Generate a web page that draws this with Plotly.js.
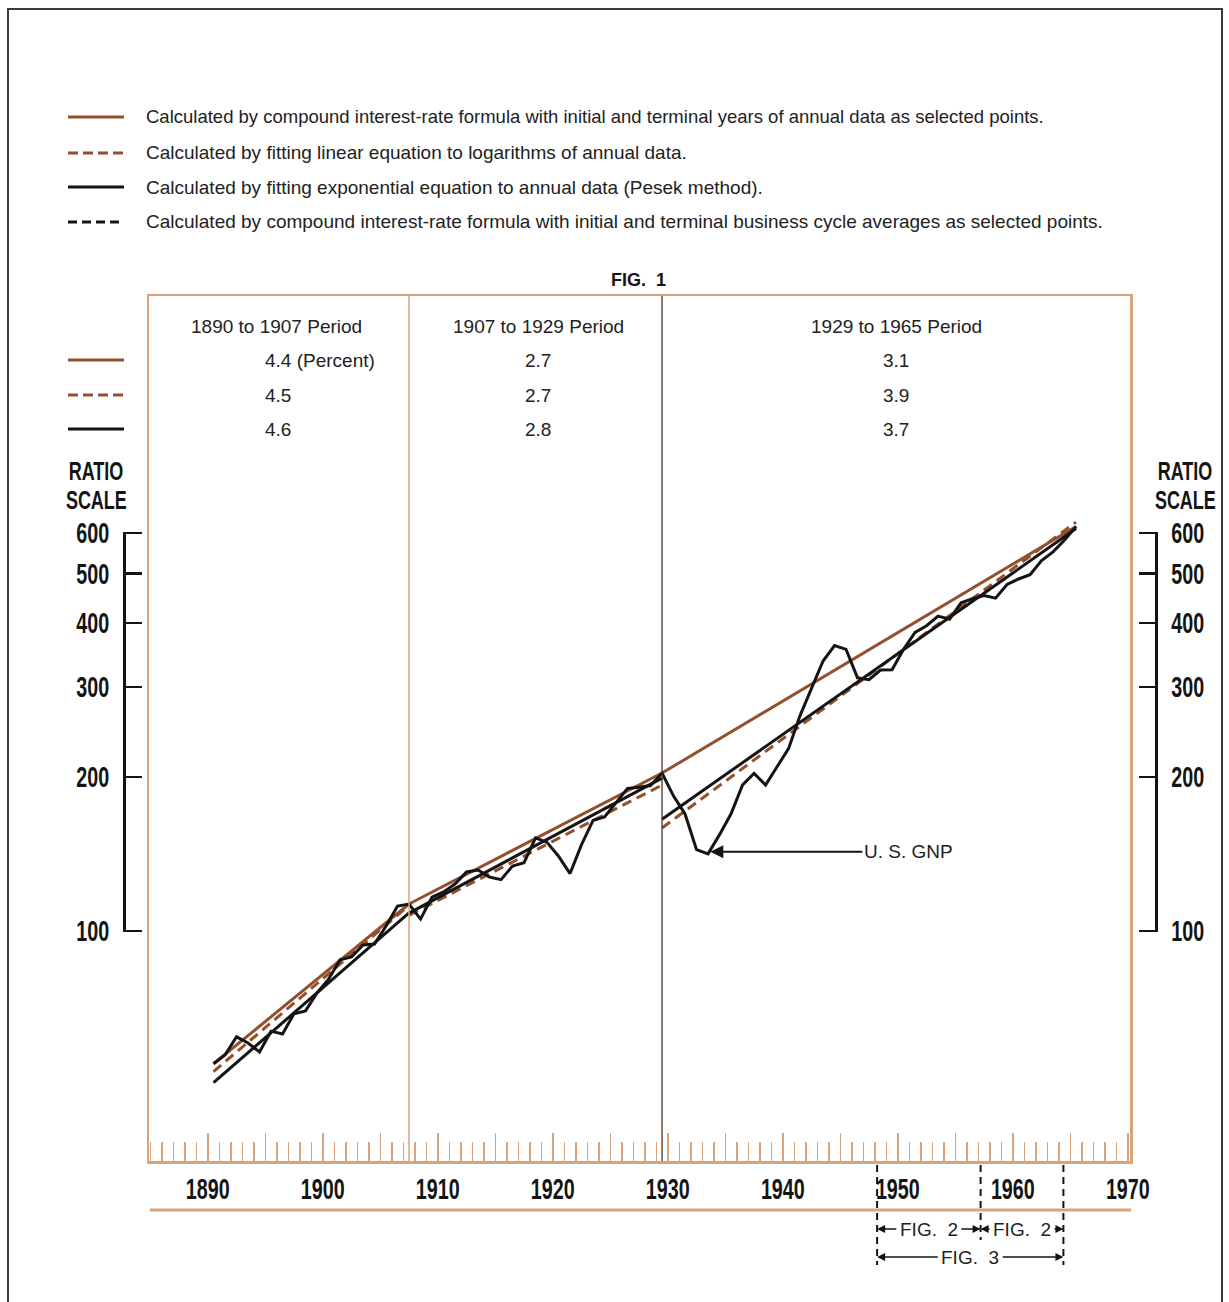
<!DOCTYPE html>
<html>
<head>
<meta charset="utf-8">
<script src="https://cdn.plot.ly/plotly-3.0.1.min.js"></script>
<style>
html,body{margin:0;padding:0;background:#fff;overflow:hidden;}
#chart{width:1229px;height:1302px;}
#frame{position:absolute;left:7px;top:8px;width:1216px;height:1320px;border:2px solid #3a3a3a;box-sizing:border-box;pointer-events:none;}
</style>
</head>
<body>
<div id="chart"></div>
<div id="frame"></div>
<script>
// ---------------- DATA ----------------
const years = [1890,1891,1892,1893,1894,1895,1896,1897,1898,1899,
               1900,1901,1902,1903,1904,1905,1906,1907,1908,1909,
               1910,1911,1912,1913,1914,1915,1916,1917,1918,1919,
               1920,1921,1922,1923,1924,1925,1926,1927,1928,1929,
               1930,1931,1932,1933,1934,1935,1936,1937,1938,1939,
               1940,1941,1942,1943,1944,1945,1946,1947,1948,1949,
               1950,1951,1952,1953,1954,1955,1956,1957,1958,1959,
               1960,1961,1962,1963,1964,1965];
// U.S. GNP (billions, constant dollars)
const gnp = [55.0,57.2,62.1,60.4,58.0,63.7,62.9,68.9,69.8,75.7,
             80.5,87.8,89.0,93.9,94.3,102.3,111.9,112.9,105.5,116.5,
             119.2,123.5,130.4,131.6,127.5,126.0,134.0,136.0,152.0,149.0,
             140.0,129.5,147.5,164.5,167.0,178.0,190.0,191.0,192.5,203.6,
             183.5,169.3,144.2,141.5,154.3,169.5,193.0,203.2,192.9,209.4,
             227.2,263.7,297.8,337.1,361.3,355.2,312.6,309.9,323.7,324.1,
             355.3,383.4,395.1,412.8,407.0,438.0,446.1,452.5,447.3,475.9,
             487.7,497.2,529.8,551.0,581.1,617.8];

const periodStart = [1890, 1907, 1929];
const periodEnd   = [1907, 1929, 1965];
// compound interest-rate line (initial & terminal years)
const compStart = [55.0, 112.9, 203.6];
const compEnd   = [112.9, 203.6, 617.8];
// linear fit to logarithms
const logFitStart = [53.1, 107.3, 159.0];
const logFitEnd   = [112.2, 192.9, 630.0];
// exponential fit (Pesek method)
const expFitStart = [50.5, 108.4, 165.4];
const expFitEnd   = [108.5, 199.0, 612.0];

const periodLabels = ['1890 to 1907 Period', '1907 to 1929 Period', '1929 to 1965 Period'];
const compRate   = ['4.4 (Percent)', '2.7', '3.1'];
const logFitRate = ['4.5', '2.7', '3.9'];
const expFitRate = ['4.6', '2.8', '3.7'];

const legendTexts = [
  'Calculated by compound interest-rate formula with initial and terminal years of annual data as selected points.',
  'Calculated by fitting linear equation to logarithms of annual data.',
  'Calculated by fitting exponential equation to annual data (Pesek method).',
  'Calculated by compound interest-rate formula with initial and terminal business cycle averages as selected points.'
];

const xTickYears = [1890,1895,1900,1905,1910,1915,1920,1925,1930,1935,1940,1945,1950,1955,1960,1965,1970];
const xTickText  = ['1890','','1900','','1910','','1920','','1930','','1940','','1950','','1960','','1970'];
const scaleTicks = [100, 200, 300, 400, 500, 600];
const scaleHeading = ['RATIO', 'SCALE'];

const figLabels = ['FIG.\u00a0 2', 'FIG.\u00a0 2', 'FIG.\u00a0 3'];
const figFrom   = [1948.2, 1957.2, 1948.2];
const figTo     = [1957.2, 1964.4, 1964.4];
const figRowPx  = [1229, 1229, 1257];

// ---------------- STYLE / LAYOUT ----------------
const W = 1229, H = 1302, L = 60, R = 40, T = 296, B = 141;
const pw = W - L - R, ph = H - T - B;
const px = x => (x - L) / pw;
const py = y => (H - B - y) / ph;
const mid = y => y + 0.5;   // annual data plotted at mid-year

const tan = '#d8a47e';
const brown = '#93502c';
const ink = '#141414';
const boldFam = "'Liberation Sans', Arial, sans-serif";
const regular = "'Liberation Sans', Arial, sans-serif";
const boldFont = {family: boldFam, size: 29, color: ink, weight: 700};
const regFont = {family: regular, size: 19, color: '#222'};
const SQUEEZE_NUM = 0.68, SQUEEZE_WORD = 0.72;

const xRange = [1884.89, 1970.19];
const xDomain = [px(149), px(1130)];
const pxPerYear = (1130 - 149) / (xRange[1] - xRange[0]);

const traces = [];
for (let i = 0; i < periodStart.length; i++) {
  traces.push({x: [mid(periodStart[i]), mid(periodEnd[i])], y: [compStart[i], compEnd[i]],
    mode: 'lines', line: {color: brown, width: 3}, hoverinfo: 'skip', showlegend: false});
  traces.push({x: [mid(periodStart[i]), mid(periodEnd[i])], y: [logFitStart[i], logFitEnd[i]],
    mode: 'lines', line: {color: brown, width: 3, dash: '10px,6px'}, hoverinfo: 'skip', showlegend: false});
  traces.push({x: [mid(periodStart[i]), mid(periodEnd[i])], y: [expFitStart[i], expFitEnd[i]],
    mode: 'lines', line: {color: ink, width: 3}, hoverinfo: 'skip', showlegend: false});
}
traces.push({x: years.map(mid), y: gnp, mode: 'lines', line: {color: ink, width: 3},
  name: 'U. S. GNP', showlegend: false});
// carriers for the two ratio-scale axes (invisible)
['y2', 'y3'].forEach(ax => traces.push({x: scaleTicks.map(() => years[0]), y: scaleTicks, yaxis: ax,
  mode: 'markers', marker: {opacity: 0}, hoverinfo: 'skip', showlegend: false}));

const shapes = [];
shapes.push({type: 'line', xref: 'x', yref: 'paper', x0: mid(periodEnd[0]), x1: mid(periodEnd[0]), y0: 0, y1: 1,
  line: {color: tan, width: 1.5}});
shapes.push({type: 'line', xref: 'x', yref: 'paper', x0: mid(periodEnd[1]), x1: mid(periodEnd[1]), y0: 0, y1: 1,
  line: {color: '#4a3326', width: 1.3}});
shapes.push({type: 'line', xref: 'paper', yref: 'paper', x0: px(150), x1: px(1131), y0: py(1210), y1: py(1210),
  line: {color: tan, width: 3}});
const legStyles = [{color: brown, dash: 'solid'}, {color: brown, dash: '10px,5px'},
                   {color: ink, dash: 'solid'}, {color: ink, dash: '9px,5px'}];
const legRowsPx = [117, 153, 187, 222];
legStyles.forEach((s, i) => shapes.push({type: 'line', xref: 'paper', yref: 'paper',
  x0: px(68), x1: px(124), y0: py(legRowsPx[i]), y1: py(legRowsPx[i]),
  line: {color: s.color, width: 3, dash: s.dash}}));
const tabRowsPx = [360, 395, 429];
legStyles.slice(0, 3).forEach((s, i) => shapes.push({type: 'line', xref: 'paper', yref: 'paper',
  x0: px(68), x1: px(124), y0: py(tabRowsPx[i]), y1: py(tabRowsPx[i]),
  line: {color: s.color, width: 3, dash: s.dash}}));
const figMarks = [figFrom[0], figTo[0], figTo[1]];
const figMarkBottom = [1265, 1240, 1265];
figMarks.forEach((v, i) => shapes.push({type: 'line', xref: 'x', yref: 'paper', x0: v, x1: v,
  y0: py(1165), y1: py(figMarkBottom[i]), line: {color: ink, width: 2, dash: '7px,5px'}}));

const anns = [];
const note = (x, y, text, font, xanchor) => anns.push({xref: 'paper', yref: 'paper', x: x, y: y,
  xanchor: xanchor || 'center', yanchor: 'middle', text: text, showarrow: false, font: font});
legendTexts.forEach((t, i) => note(px(144), py(legRowsPx[i]), t,
  Object.assign({}, regFont, {size: i === 0 ? 18.5 : 19}), 'left'));
note(px(638), py(280), 'FIG.&nbsp; 1', {family: regular, size: 18, color: ink, weight: 700});
const colCenterPx = [276, 538, 896];
periodLabels.forEach((t, i) => note(px(colCenterPx[i]), py(326), t, regFont));
[compRate, logFitRate, expFitRate].forEach((row, r) => {
  row.forEach((t, i) => {
    if (i === 0) note(px(263), py(tabRowsPx[r]), t, regFont, 'left');
    else note(px(colCenterPx[i]), py(tabRowsPx[r]), t, regFont);
  });
});
// "RATIO / SCALE" headings over both scale bars
const wordFont = {family: boldFam, size: 25, color: ink, weight: 700};
const wordRowsPx = [471, 500];
[96, 1185].forEach(cx => scaleHeading.forEach((w, k) => note(px(cx), py(wordRowsPx[k]), w, wordFont)));
const troughIdx = years.indexOf(1933);
anns.push({xref: 'x', yref: 'y', x: mid(years[troughIdx]) + 0.2, y: Math.log10(gnp[troughIdx]) + 0.004,
  text: 'U. S. GNP', showarrow: true, xanchor: 'left', yanchor: 'middle', ax: 152, ay: 0, arrowhead: 2, arrowsize: 1.3,
  arrowwidth: 2, arrowcolor: ink, standoff: 0, font: regFont});
figLabels.forEach((lab, i) => {
  const c = (figFrom[i] + figTo[i]) / 2;
  const half = 31;
  const yP = py(figRowPx[i]);
  anns.push({xref: 'x', yref: 'paper', x: c, y: yP, xanchor: 'center', yanchor: 'middle',
    text: lab, showarrow: false, font: regFont});
  anns.push({xref: 'x', yref: 'paper', x: figFrom[i], y: yP, text: '', showarrow: true,
    ax: (c - figFrom[i]) * pxPerYear - half, ay: 0, arrowhead: 2, arrowsize: 1, arrowwidth: 1.6, arrowcolor: ink});
  anns.push({xref: 'x', yref: 'paper', x: figTo[i], y: yP, text: '', showarrow: true,
    ax: -((figTo[i] - c) * pxPerYear - half), ay: 0, arrowhead: 2, arrowsize: 1, arrowwidth: 1.6, arrowcolor: ink});
});

// ratio-scale bars: 100..600 mapped to the same pixels as the main log axis (+1px margin so end ticks draw)
const pxPerDecade = 511.5, eps = 0.002;
const scaleAxis = (pos, side) => ({
  domain: [py(931 + eps * pxPerDecade), py(533 - eps * pxPerDecade)], type: 'log',
  range: [2 - eps, Math.log10(600) + eps],
  anchor: 'free', position: pos, side: side,
  showline: true, linecolor: ink, linewidth: 2.5,
  ticks: 'inside', ticklen: 16, tickwidth: 2.5, tickcolor: ink,
  tickmode: 'array', tickvals: scaleTicks, ticktext: scaleTicks.map(String),
  tickfont: boldFont, showgrid: false, zeroline: false, ticklabelstandoff: 8, fixedrange: true
});

const layout = {
  width: W, height: H,
  margin: {l: L, r: R, t: T, b: B},
  paper_bgcolor: '#ffffff', plot_bgcolor: 'rgba(0,0,0,0)',
  showlegend: false,
  xaxis: {
    domain: xDomain, range: xRange, type: 'linear',
    showline: true, mirror: true, linecolor: tan, linewidth: 2.5,
    tickmode: 'array', tickvals: xTickYears, ticktext: xTickText,
    ticks: 'inside', ticklen: 28, tickwidth: 1.5, tickcolor: tan,
    minor: {tickmode: 'linear', tick0: 1885, dtick: 1, ticks: 'inside', ticklen: 19, tickwidth: 1.5, tickcolor: tan},
    tickfont: boldFont, ticklabelstandoff: 1,
    showgrid: false, zeroline: false, fixedrange: true
  },
  yaxis: {
    domain: [0, 1], type: 'log', range: [1.5503, 3.2414],
    showline: true, mirror: true, linecolor: tan, linewidth: 2.5,
    ticks: '', showticklabels: false, showgrid: false, zeroline: false, fixedrange: true
  },
  yaxis2: scaleAxis(px(124), 'left'),
  yaxis3: scaleAxis(px(1156), 'right'),
  shapes: shapes,
  annotations: anns
};

// narrow the bold labels horizontally around their own anchor (condensed type look)
function squeeze(nodes, sx) {
  nodes.forEach(el => {
    const x = parseFloat(el.getAttribute('x') || 0);
    const y = parseFloat(el.getAttribute('y') || 0);
    const t = el.getAttribute('transform') || '';
    el.setAttribute('transform', t + ' translate(' + x + ',' + y + ') scale(' + sx + ',1) translate(' + (-x) + ',' + (-y) + ')');
  });
}

Plotly.newPlot('chart', traces, layout, {displayModeBar: false, staticPlot: true}).then(gd => {
  squeeze(gd.querySelectorAll('.xtick text, .y2tick text, .y3tick text'), SQUEEZE_NUM);
  const words = Array.from(gd.querySelectorAll('text.annotation-text'))
    .filter(el => scaleHeading.indexOf(el.textContent) >= 0);
  squeeze(words, SQUEEZE_WORD);
});
</script>
</body>
</html>
